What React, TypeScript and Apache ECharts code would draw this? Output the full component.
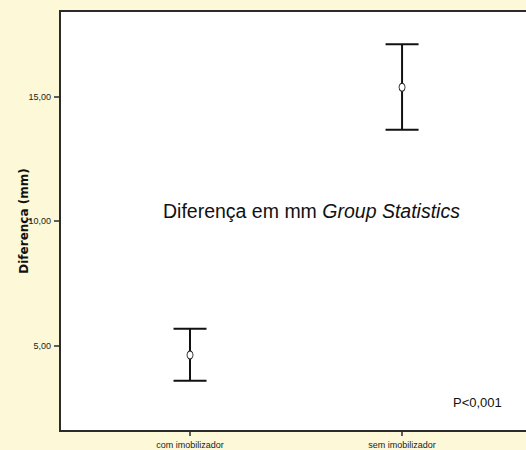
import React, { useEffect, useRef } from "react";
import * as echarts from "echarts";

const categories = ["com imobilizador", "sem imobilizador"];
const means = [4.64, 15.37];
const lowerCI = [3.6, 13.67];
const upperCI = [5.69, 17.1];
const yTicks = [5, 10, 15];
const yAxisTitle = "Diferença (mm)";
const annotationMain = "Diferença em mm ";
const annotationItalic = "Group Statistics";
const pValueText = "P<0,001";

export default function App() {
  const ref = useRef<HTMLDivElement>(null);
  useEffect(() => {
    document.body.style.margin = "0";
    if (!ref.current) return;
    const chart = echarts.init(ref.current, null, { renderer: "svg" });
    const catIdx = categories.map((_, i) => i + 1);
    const font = "Arial, 'Liberation Sans', Helvetica, sans-serif";
    chart.setOption({
      animation: false,
      backgroundColor: "#FDF8D7",
      textStyle: { fontFamily: font },
      grid: {
        left: 60,
        top: 11,
        right: 12,
        bottom: 19,
        show: true,
        backgroundColor: "#ffffff",
        borderColor: "#2b2b2b",
        borderWidth: 2,
      },
      xAxis: {
        type: "value",
        min: 0.3868,
        max: 2.594,
        splitLine: { show: false },
        axisLine: { show: false },
        axisTick: {
          show: true,
          customValues: catIdx,
          length: 5,
          lineStyle: { color: "#2b2b2b", width: 1.5 },
        },
        axisLabel: {
          customValues: catIdx,
          formatter: (v: number) => categories[Math.round(v) - 1] ?? "",
          fontSize: 9,
          color: "#222",
          margin: 9,
          fontFamily: font,
        },
      },
      yAxis: {
        type: "value",
        min: 1.59,
        max: 18.43,
        splitLine: { show: false },
        axisLine: { show: false },
        axisTick: {
          show: true,
          customValues: yTicks,
          length: 6,
          lineStyle: { color: "#2b2b2b", width: 1.5 },
        },
        axisLabel: {
          customValues: yTicks,
          formatter: (v: number) => v.toFixed(2).replace(".", ","),
          fontSize: 9,
          color: "#222",
          margin: 9,
          fontFamily: font,
        },
        name: yAxisTitle,
        nameLocation: "middle",
        nameGap: 30,
        nameMoveOverlap: false,
        nameTextStyle: {
          fontSize: 12,
          fontWeight: "bold",
          color: "#111",
          fontFamily: "'DejaVu Sans', Verdana, sans-serif",
        },
      },
      series: [
        {
          type: "custom",
          data: catIdx.map((x, i) => [x, lowerCI[i], upperCI[i]]),
          encode: { x: 0, y: [1, 2] },
          renderItem: (params: any, api: any) => {
            const x = api.value(0);
            const lo = api.coord([x, api.value(1)]);
            const hi = api.coord([x, api.value(2)]);
            const hw = 16.5;
            const style = { stroke: "#111", lineWidth: 2 };
            return {
              type: "group",
              children: [
                { type: "line", shape: { x1: lo[0], y1: lo[1], x2: hi[0], y2: hi[1] }, style },
                { type: "line", shape: { x1: hi[0] - hw, y1: hi[1], x2: hi[0] + hw, y2: hi[1] }, style },
                { type: "line", shape: { x1: lo[0] - hw, y1: lo[1], x2: lo[0] + hw, y2: lo[1] }, style },
              ],
            };
          },
          z: 2,
        },
        {
          type: "scatter",
          data: catIdx.map((x, i) => [x, means[i]]),
          symbol: "circle",
          symbolSize: [6, 8],
          itemStyle: { color: "#ffffff", borderColor: "#222", borderWidth: 1, opacity: 1 },
          z: 3,
        },
      ],
      graphic: [
        {
          type: "text",
          left: 163,
          top: 201,
          style: {
            text: "{n|" + annotationMain + "}{i|" + annotationItalic + "}",
            rich: {
              n: { fontSize: 19.5, fontFamily: font, fill: "#111" },
              i: { fontSize: 19.5, fontFamily: font, fontStyle: "italic", fill: "#111" },
            },
          },
        },
        {
          type: "text",
          left: 453,
          top: 396,
          style: { text: pValueText, fontSize: 13, fontFamily: font, fill: "#111" },
        },
      ],
    });
    return () => chart.dispose();
  }, []);
  return (
    <div style={{ width: 526, height: 450, overflow: "hidden" }}>
      <div ref={ref} style={{ width: 540, height: 450 }} />
    </div>
  );
}
